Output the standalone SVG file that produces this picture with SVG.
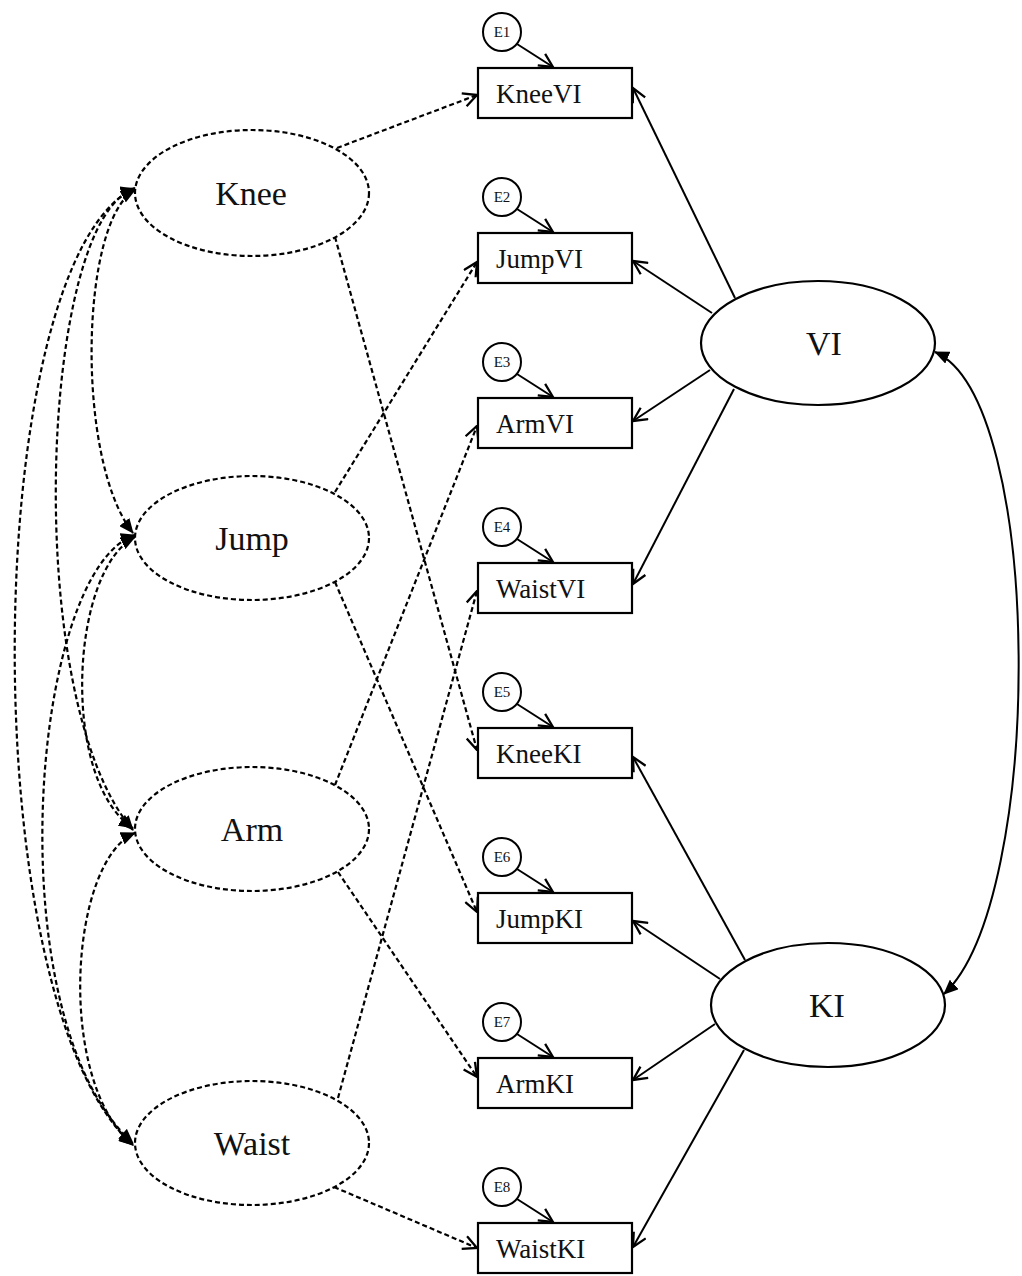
<svg xmlns="http://www.w3.org/2000/svg" width="1022" height="1276" viewBox="0 0 1022 1276">
<style>
.bg{fill:#fff}
.lat{fill:#fff;stroke:#000;stroke-width:2.2;stroke-dasharray:5 3}
.latS{fill:#fff;stroke:#000;stroke-width:2.2}
.box{fill:#fff;stroke:#000;stroke-width:2.2}
.err{fill:#fff;stroke:#000;stroke-width:2}
.dash{fill:none;stroke:#000;stroke-width:2.2;stroke-dasharray:5 3}
.solid{fill:none;stroke:#000;stroke-width:2}
.t{font-family:"Liberation Serif","Times New Roman",serif;fill:#111}
.big{font-size:34px;text-anchor:middle}
.mid{font-size:27px}
.sm{font-size:15px;text-anchor:middle}
</style>
<defs>
<marker id="open" markerUnits="userSpaceOnUse" markerWidth="16" markerHeight="16" viewBox="0 0 14 14" refX="13" refY="7" orient="auto">
<path d="M1,1 L13,7 L1,13" fill="none" stroke="#000" stroke-width="2"/>
</marker>
<marker id="fill" markerUnits="userSpaceOnUse" markerWidth="15" markerHeight="13" viewBox="0 0 15 13" refX="14" refY="6.5" orient="auto-start-reverse">
<path d="M0,0 L15,6.5 L0,13 z" fill="#000"/>
</marker>
</defs>
<rect class="bg" x="0" y="0" width="1022" height="1276"/>

<g id="connectors">
<path class="dash" d="M135,190 C80,220 75,460 133,533" marker-start="url(#fill)" marker-end="url(#fill)"/>
<path class="dash" d="M135,189 C40,215 20,700 133,830" marker-start="url(#fill)" marker-end="url(#fill)"/>
<path class="dash" d="M135,188 C-20,260 -30,1000 133,1145" marker-start="url(#fill)" marker-end="url(#fill)"/>
<path class="dash" d="M135,537 C70,570 60,780 133,828" marker-start="url(#fill)" marker-end="url(#fill)"/>
<path class="dash" d="M135,535 C30,570 -5,1020 133,1143" marker-start="url(#fill)" marker-end="url(#fill)"/>
<path class="dash" d="M135,833 C70,860 55,1080 133,1145" marker-start="url(#fill)" marker-end="url(#fill)"/>
<path class="solid" d="M935,352 C1045,400 1045,900 944,994" marker-start="url(#fill)" marker-end="url(#fill)"/>
<path class="dash" d="M337,148 L477,95" marker-end="url(#open)"/>
<path class="dash" d="M335,237 L477,750" marker-end="url(#open)"/>
<path class="dash" d="M335,492 L477,262" marker-end="url(#open)"/>
<path class="dash" d="M335,582 L477,912" marker-end="url(#open)"/>
<path class="dash" d="M335,785 L477,426" marker-end="url(#open)"/>
<path class="dash" d="M338,872 L477,1077" marker-end="url(#open)"/>
<path class="dash" d="M338,1098 L477,591" marker-end="url(#open)"/>
<path class="dash" d="M334,1187 L477,1248" marker-end="url(#open)"/>
<path class="solid" d="M735,298 L633,88" marker-end="url(#open)"/>
<path class="solid" d="M712,313 L633,261" marker-end="url(#open)"/>
<path class="solid" d="M710,370 L633,421" marker-end="url(#open)"/>
<path class="solid" d="M734,389 L633,584" marker-end="url(#open)"/>
<path class="solid" d="M745,960 L633,757" marker-end="url(#open)"/>
<path class="solid" d="M720,979 L633,921" marker-end="url(#open)"/>
<path class="solid" d="M715,1024 L633,1080" marker-end="url(#open)"/>
<path class="solid" d="M744,1050 L633,1247" marker-end="url(#open)"/>
<path class="solid" d="M517,44 L553,67" marker-end="url(#open)"/>
<path class="solid" d="M517,209 L553,232" marker-end="url(#open)"/>
<path class="solid" d="M517,374 L553,397" marker-end="url(#open)"/>
<path class="solid" d="M517,539 L553,562" marker-end="url(#open)"/>
<path class="solid" d="M517,704 L553,727" marker-end="url(#open)"/>
<path class="solid" d="M517,869 L553,892" marker-end="url(#open)"/>
<path class="solid" d="M517,1034 L553,1057" marker-end="url(#open)"/>
<path class="solid" d="M517,1199 L553,1222" marker-end="url(#open)"/>
</g>

<g id="Knee"><ellipse class="lat" cx="252" cy="193" rx="117" ry="63"/><text class="t big" x="251" y="205">Knee</text></g>
<g id="Jump"><ellipse class="lat" cx="252" cy="538" rx="117" ry="62"/><text class="t big" x="252" y="550">Jump</text></g>
<g id="Arm"><ellipse class="lat" cx="252" cy="829" rx="117" ry="62"/><text class="t big" x="252" y="841">Arm</text></g>
<g id="Waist"><ellipse class="lat" cx="252" cy="1143" rx="117" ry="62"/><text class="t big" x="252" y="1155">Waist</text></g>

<g id="VI"><ellipse class="latS" cx="818" cy="343" rx="117" ry="62"/><text class="t big" x="824" y="355">VI</text></g>
<g id="KI"><ellipse class="latS" cx="828" cy="1005" rx="117" ry="62"/><text class="t big" x="827" y="1017">KI</text></g>

<g id="KneeVI"><rect class="box" x="478" y="68" width="154" height="50"/><text class="t mid" x="496" y="103">KneeVI</text></g>
<g id="JumpVI"><rect class="box" x="478" y="233" width="154" height="50"/><text class="t mid" x="496" y="268">JumpVI</text></g>
<g id="ArmVI"><rect class="box" x="478" y="398" width="154" height="50"/><text class="t mid" x="496" y="433">ArmVI</text></g>
<g id="WaistVI"><rect class="box" x="478" y="563" width="154" height="50"/><text class="t mid" x="496" y="598">WaistVI</text></g>
<g id="KneeKI"><rect class="box" x="478" y="728" width="154" height="50"/><text class="t mid" x="496" y="763">KneeKI</text></g>
<g id="JumpKI"><rect class="box" x="478" y="893" width="154" height="50"/><text class="t mid" x="496" y="928">JumpKI</text></g>
<g id="ArmKI"><rect class="box" x="478" y="1058" width="154" height="50"/><text class="t mid" x="496" y="1093">ArmKI</text></g>
<g id="WaistKI"><rect class="box" x="478" y="1223" width="154" height="50"/><text class="t mid" x="496" y="1258">WaistKI</text></g>

<g id="E1"><circle class="err" cx="502" cy="32" r="19"/><text class="t sm" x="502" y="37">E1</text></g>
<g id="E2"><circle class="err" cx="502" cy="197" r="19"/><text class="t sm" x="502" y="202">E2</text></g>
<g id="E3"><circle class="err" cx="502" cy="362" r="19"/><text class="t sm" x="502" y="367">E3</text></g>
<g id="E4"><circle class="err" cx="502" cy="527" r="19"/><text class="t sm" x="502" y="532">E4</text></g>
<g id="E5"><circle class="err" cx="502" cy="692" r="19"/><text class="t sm" x="502" y="697">E5</text></g>
<g id="E6"><circle class="err" cx="502" cy="857" r="19"/><text class="t sm" x="502" y="862">E6</text></g>
<g id="E7"><circle class="err" cx="502" cy="1022" r="19"/><text class="t sm" x="502" y="1027">E7</text></g>
<g id="E8"><circle class="err" cx="502" cy="1187" r="19"/><text class="t sm" x="502" y="1192">E8</text></g>
</svg>
